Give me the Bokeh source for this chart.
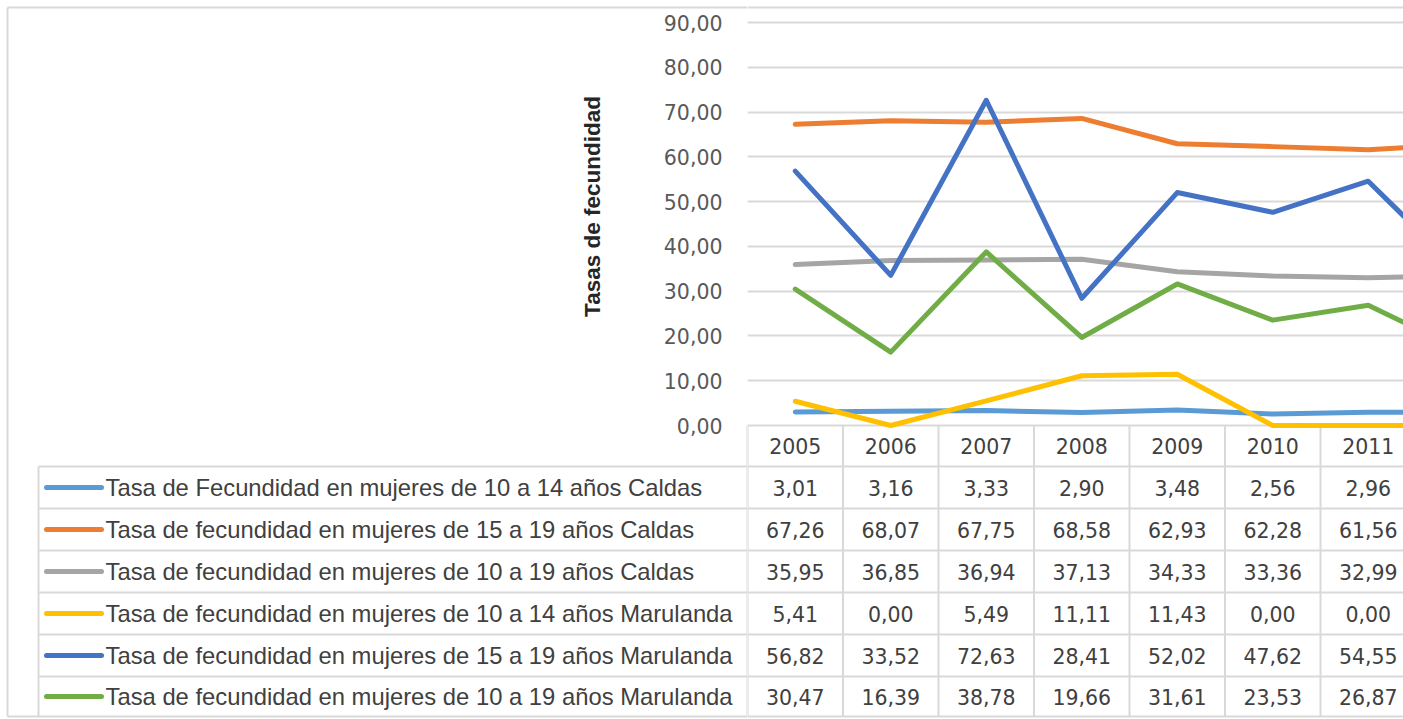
from bokeh.plotting import figure
from bokeh.layouts import row
from bokeh.models import Range1d, FixedTicker
from bokeh.embed import file_html
from bokeh.resources import INLINE
from bokeh.core.properties import value

# ---------------- data ----------------
YEARS = [2005, 2006, 2007, 2008, 2009, 2010, 2011]
YEAR_LABELS = ["2005", "2006", "2007", "2008", "2009", "2010", "2011"]
NEXT_YEAR = 2012  # column cut off at the right edge of the picture

SERIES_NAMES = [
    "Tasa de Fecundidad en mujeres de 10 a 14 años Caldas",
    "Tasa de fecundidad en mujeres de 15 a 19 años  Caldas",
    "Tasa de fecundidad en mujeres de 10 a 19 años Caldas",
    "Tasa de fecundidad en mujeres de 10 a 14 años Marulanda",
    "Tasa de fecundidad en mujeres de 15 a 19 años Marulanda",
    "Tasa de fecundidad en mujeres de 10 a 19 años Marulanda",
]
caldas_10_14 = [3.01, 3.16, 3.33, 2.90, 3.48, 2.56, 2.96]
caldas_15_19 = [67.26, 68.07, 67.75, 68.58, 62.93, 62.28, 61.56]
caldas_10_19 = [35.95, 36.85, 36.94, 37.13, 34.33, 33.36, 32.99]
marulanda_10_14 = [5.41, 0.00, 5.49, 11.11, 11.43, 0.00, 0.00]
marulanda_15_19 = [56.82, 33.52, 72.63, 28.41, 52.02, 47.62, 54.55]
marulanda_10_19 = [30.47, 16.39, 38.78, 19.66, 31.61, 23.53, 26.87]
# 2012 values, estimated from the visible start of the last segment
next_year_est = [3.0, 62.9, 33.4, 0.0, 33.6, 16.6]

SERIES = [caldas_10_14, caldas_15_19, caldas_10_19,
          marulanda_10_14, marulanda_15_19, marulanda_10_19]
COLORS = ["#5B9BD5", "#ED7D31", "#A5A5A5", "#FFC000", "#4472C4", "#70AD47"]
Y_TICKS = [0, 10, 20, 30, 40, 50, 60, 70, 80, 90]
Y_TITLE = "Tasas de fecundidad"

# ---------------- layout constants (pixels) ----------------
W_TOTAL, H = 1403, 719
PLOT_LEFT = 747               # x of the plot area's left edge
CAT_W = 95.5                  # px per category
PLOT_TOP, ZERO_Y = 22, 425    # y of the 90 line and of the 0 line
BORDER_L, BORDER_T, BORDER_B = 7, 7, 716
ROW_EDGES = [425, 466, 508, 550, 592, 634, 676, 716]
LEGEND_LEFT = 38
KEY_X0, KEY_X1, TEXT_X = 46, 101, 105
TICK_LABEL_RIGHT = 722
TITLE_X, TITLE_Y = 592, 206

NUM_FONT = "DejaVu Sans"
LEG_FONT = "Liberation Sans"
GRID = "#d9d9d9"
TXT = "#404040"

PPU = (ZERO_Y - PLOT_TOP) / 90.0          # px per value unit


def yv(py):
    """page y in px -> value units"""
    return (ZERO_Y - py) / PPU


def fmt(v):
    return f"{v:.2f}".replace(".", ",")


y_range = Range1d(yv(H), yv(0))
W_R = W_TOTAL - PLOT_LEFT
row_lines = ROW_EDGES[1:-1]
row_centers = [(a + b) / 2 for a, b in zip(ROW_EDGES[:-1], ROW_EDGES[1:])]

common = dict(height=H, output_backend="svg", toolbar_location=None, y_range=y_range,
              min_border=0, border_fill_color=None, background_fill_color=None,
              outline_line_color=None, x_axis_location=None, y_axis_location=None)

# ---------------- left part: axis labels, title, legend column ----------------
pL = figure(width=PLOT_LEFT, x_range=Range1d(0, PLOT_LEFT), **common)
pL.grid.visible = False

# outer border
pL.segment(x0=[BORDER_L, BORDER_L, BORDER_L], y0=[yv(BORDER_T), yv(BORDER_T), yv(BORDER_B)],
           x1=[BORDER_L, PLOT_LEFT, PLOT_LEFT], y1=[yv(BORDER_B), yv(BORDER_T), yv(BORDER_B)],
           line_color=GRID, line_width=2)
# table lines in the legend column
pL.segment(x0=[LEGEND_LEFT] * len(row_lines), y0=[yv(p) for p in row_lines],
           x1=[PLOT_LEFT] * len(row_lines), y1=[yv(p) for p in row_lines],
           line_color=GRID, line_width=2)
pL.segment(x0=[LEGEND_LEFT, PLOT_LEFT], y0=[yv(ROW_EDGES[1]), 0],
           x1=[LEGEND_LEFT, PLOT_LEFT], y1=[yv(ROW_EDGES[-1]), yv(ROW_EDGES[-1])],
           line_color=GRID, line_width=2)

# y tick labels
pL.text(x=[TICK_LABEL_RIGHT] * len(Y_TICKS), y=Y_TICKS, text=[fmt(t) for t in Y_TICKS],
        text_align="right", text_baseline="middle", text_font=value(NUM_FONT),
        text_font_size=value("20.5px"), text_color="#595959")
# y title
pL.text(x=[TITLE_X], y=[yv(TITLE_Y)], text=[Y_TITLE], angle=1.5707963,
        text_align="center", text_baseline="middle", text_font=value(LEG_FONT),
        text_font_size=value("22.5px"), text_font_style="bold", text_color="#262626")

# legend entries
for name, col, yc in zip(SERIES_NAMES, COLORS, row_centers[1:]):
    pL.segment(x0=[KEY_X0], y0=[yv(yc)], x1=[KEY_X1], y1=[yv(yc)],
               line_color=col, line_width=5, line_cap="round")
    pL.text(x=[TEXT_X], y=[yv(yc)], text=[name], text_align="left",
            text_baseline="middle", text_font=value(LEG_FONT),
            text_font_size=value("23.8px"), text_color=TXT)

# ---------------- right part: chart + data table ----------------
x_end = YEARS[0] - 0.5 + W_R / CAT_W
pR = figure(width=W_R, x_range=Range1d(YEARS[0] - 0.5, x_end), **common)
pR.xgrid.grid_line_color = None
pR.ygrid.ticker = FixedTicker(ticks=Y_TICKS)
pR.ygrid.grid_line_color = GRID
pR.ygrid.grid_line_width = 2

# outer border (top / bottom)
pR.segment(x0=[YEARS[0] - 0.5] * 2, y0=[yv(BORDER_T), yv(BORDER_B)],
           x1=[x_end] * 2, y1=[yv(BORDER_T), yv(BORDER_B)], line_color=GRID, line_width=2)
# table lines
bounds = [y - 0.5 for y in YEARS] + [YEARS[-1] + 0.5]
pR.segment(x0=bounds, y0=[0] * len(bounds), x1=bounds, y1=[yv(ROW_EDGES[-1])] * len(bounds),
           line_color=GRID, line_width=2)
pR.segment(x0=[YEARS[0] - 0.5] * len(row_lines), y0=[yv(p) for p in row_lines],
           x1=[x_end] * len(row_lines), y1=[yv(p) for p in row_lines],
           line_color=GRID, line_width=2)

# header row
pR.text(x=YEARS, y=[yv(row_centers[0])] * len(YEARS), text=YEAR_LABELS,
        text_align="center", text_baseline="middle", text_font=value(NUM_FONT),
        text_font_size=value("20.5px"), text_color=TXT)
# values
for vals, yc in zip(SERIES, row_centers[1:]):
    pR.text(x=YEARS, y=[yv(yc)] * len(YEARS), text=[fmt(v) for v in vals],
            text_align="center", text_baseline="middle", text_font=value(NUM_FONT),
            text_font_size=value("20.5px"), text_color=TXT)

# lines
xs = YEARS + [NEXT_YEAR]
for vals, extra, col in zip(SERIES, next_year_est, COLORS):
    pR.line(xs, vals + [extra], line_color=col, line_width=5,
            line_join="round", line_cap="round")

layout = row(pL, pR, spacing=0)
open("out.html", "w").write(file_html(layout, INLINE))
